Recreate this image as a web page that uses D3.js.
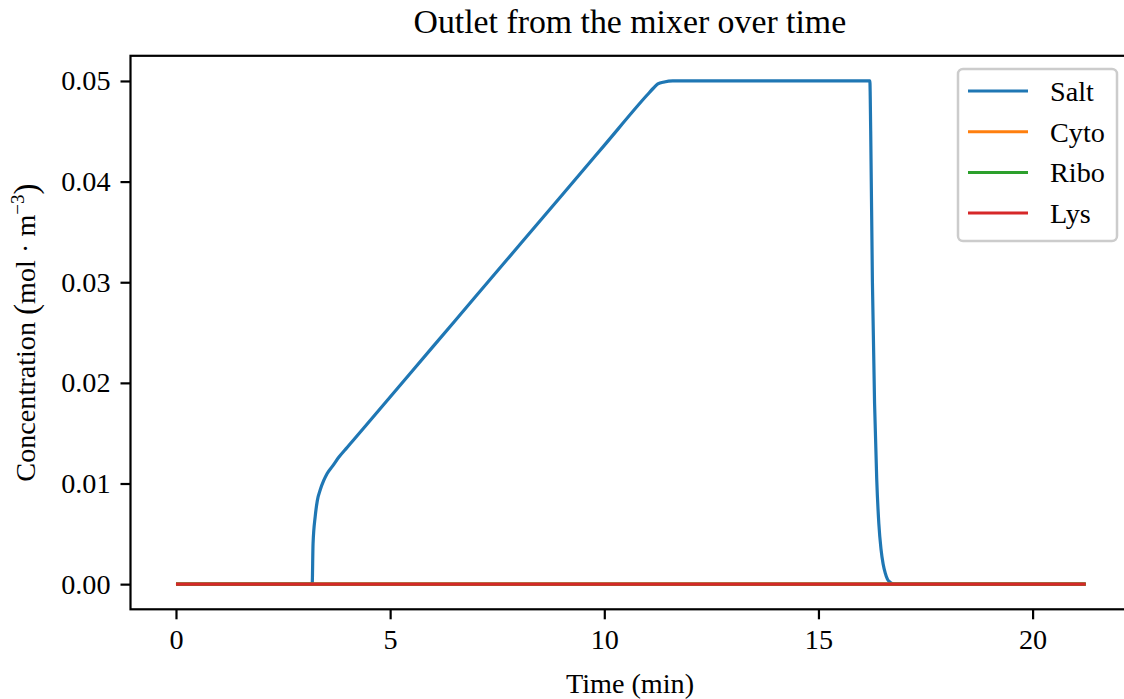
<!DOCTYPE html>
<html>
<head>
<meta charset="utf-8">
<script src="https://cdn.jsdelivr.net/npm/d3@7"></script>
<style>
  body { margin: 0; background: #fff; }
  svg { display: block; }
</style>
</head>
<body>
<svg id="chart" width="1124" height="699"></svg>
<script>
// Time points (min) of the salt curve
const saltTime = [0, 3.15, 3.18, 3.2, 3.25, 3.3, 3.37, 3.45, 3.53, 3.65, 3.8, 4.0, 4.14,
    5, 6, 7, 8, 9, 10, 11, 11.15, 11.25, 11.4, 11.6,
    16.2, 16.22, 16.26, 16.31, 16.36, 16.41, 16.46, 16.51, 16.56, 16.61, 16.67, 16.78, 21.24];
const saltValue = [0, 0, 0, 0.004, 0.0067, 0.0083, 0.0094, 0.0103, 0.011, 0.0117, 0.0126, 0.0136, 0.0143,
    0.0186, 0.0236, 0.0286, 0.0336, 0.0386, 0.0436, 0.0486, 0.0493, 0.0497, 0.0499, 0.05,
    0.05, 0.045, 0.03, 0.018, 0.0105, 0.006, 0.0035, 0.002, 0.0011, 0.0005, 0.0002, 0, 0];
// The other three stay at zero over the whole run
const flatTime = [0, 21.24];
const cytoValue = [0, 0];
const riboValue = [0, 0];
const lysValue = [0, 0];

const xTicks = [0, 5, 10, 15, 20];
const yTicks = [0, 0.01, 0.02, 0.03, 0.04, 0.05];

const series = [
    {name: "Salt", t: saltTime, v: saltValue, color: "#1f77b4"},
    {name: "Cyto", t: flatTime, v: cytoValue, color: "#ff7f0e"},
    {name: "Ribo", t: flatTime, v: riboValue, color: "#2ca02c"},
    {name: "Lys",  t: flatTime, v: lysValue,  color: "#d62728"}
];

const font = "Liberation Serif, Times New Roman, serif";
const fs = 28.2;

// plot box (right side runs off the picture, as in the original)
const boxL = 130.5, boxR = 1131.2, boxT = 55.8, boxB = 609.3;

// 5% margins like matplotlib
const tMax = d3.max(saltTime), tMin = 0;
const tPad = 0.05 * (tMax - tMin);
const x = d3.scaleLinear().domain([tMin - tPad, tMax + tPad]).range([boxL, boxR]);
const vMax = 0.05, vPad = 0.05 * vMax;
const y = d3.scaleLinear().domain([-vPad, vMax + vPad]).range([boxB, boxT]);

const svg = d3.select("#chart");

// lines
const line = d3.line()
    .x(d => x(d[0]))
    .y(d => y(d[1]))
    .curve(d3.curveMonotoneX);

svg.append("g")
    .selectAll("path")
    .data(series)
    .join("path")
    .attr("d", s => line(s.t.map((t, i) => [t, s.v[i]])))
    .attr("fill", "none")
    .attr("stroke", s => s.color)
    .attr("stroke-width", 3.2)
    .attr("stroke-linejoin", "round");

// axes
const xAxis = svg.append("g")
    .attr("transform", `translate(0,${boxB})`)
    .call(d3.axisBottom(x).tickValues(xTicks).tickFormat(d3.format("d"))
        .tickSize(10).tickPadding(8).tickSizeOuter(0));
const yAxis = svg.append("g")
    .attr("transform", `translate(${boxL},0)`)
    .call(d3.axisLeft(y).tickValues(yTicks).tickFormat(d3.format(".2f"))
        .tickSize(10).tickPadding(10).tickSizeOuter(0));

[xAxis, yAxis].forEach(g => {
    g.select(".domain").remove();
    g.selectAll("line").attr("stroke", "#000").attr("stroke-width", 2.2);
    g.selectAll("text").attr("fill", "#000").style("font-family", font).style("font-size", fs + "px");
});
xAxis.selectAll("text").attr("dy", "0.78em");

// frame
svg.append("rect")
    .attr("x", boxL).attr("y", boxT)
    .attr("width", boxR - boxL).attr("height", boxB - boxT)
    .attr("fill", "none").attr("stroke", "#000").attr("stroke-width", 2.2);

// title and labels
svg.append("text")
    .attr("x", (boxL + boxR) / 2 - 1).attr("y", 33)
    .attr("text-anchor", "middle")
    .style("font-family", font).style("font-size", "33.8px")
    .text("Outlet from the mixer over time");

svg.append("text")
    .attr("x", 630).attr("y", 693)
    .attr("text-anchor", "middle")
    .style("font-family", font).style("font-size", fs + "px")
    .text("Time (min)");

const yl = svg.append("text")
    .attr("transform", `translate(35,${(boxT + boxB) / 2}) rotate(-90)`)
    .attr("text-anchor", "middle")
    .style("font-family", font).style("font-size", fs + "px");
yl.append("tspan").text("Concentration ");
yl.append("tspan").style("font-size", "33px").attr("dy", 2).text("(");
yl.append("tspan").attr("dy", -2).text("mol \u00b7 m");
yl.append("tspan").attr("dy", -11).style("font-size", "19px").text("\u22123");
yl.append("tspan").attr("dy", 13).style("font-size", "33px").text(")");

// legend
const lg = svg.append("g");
lg.append("rect")
    .attr("x", 958).attr("y", 69)
    .attr("width", 159).attr("height", 172)
    .attr("rx", 5)
    .attr("fill", "#fff").attr("fill-opacity", 0.8)
    .attr("stroke", "#ccc").attr("stroke-width", 2.5);
const item = lg.selectAll("g.item")
    .data(series)
    .join("g")
    .attr("class", "item")
    .attr("transform", (d, i) => `translate(0,${91 + i * 40.7})`);
item.append("line")
    .attr("x1", 968).attr("x2", 1028)
    .attr("stroke", d => d.color).attr("stroke-width", 3);
item.append("text")
    .attr("x", 1050).attr("dy", "0.35em")
    .style("font-family", font).style("font-size", fs + "px")
    .text(d => d.name);
</script>
</body>
</html>
